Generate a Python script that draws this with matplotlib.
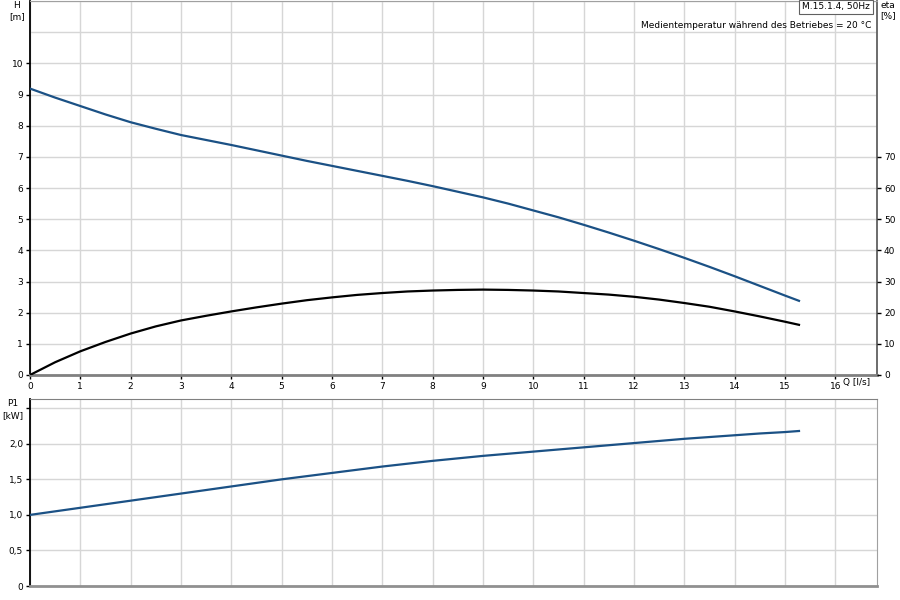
import matplotlib
matplotlib.use('Agg')
from matplotlib import pyplot as plt

# Q [l/s]
q = [0, 0.5, 1, 1.5, 2, 2.5, 3, 3.5, 4, 4.5, 5, 5.5, 6, 6.5, 7, 7.5, 8,
     8.5, 9, 9.5, 10, 10.5, 11, 11.5, 12, 12.5, 13, 13.5, 14, 14.5, 15, 15.28]
# Foerderhoehe H [m]
h = [9.19, 8.90, 8.63, 8.36, 8.11, 7.90, 7.70, 7.54, 7.38, 7.21, 7.04, 6.87, 6.71, 6.55, 6.39, 6.23, 6.06,
     5.88, 5.70, 5.50, 5.28, 5.06, 4.82, 4.57, 4.31, 4.04, 3.76, 3.47, 3.17, 2.86, 2.55, 2.38]
# Wirkungsgrad eta [%]
eta = [0, 4.1, 7.6, 10.6, 13.3, 15.6, 17.5, 19.0, 20.4, 21.7, 22.9, 24.0, 24.9, 25.7, 26.3, 26.8, 27.1,
       27.3, 27.4, 27.3, 27.1, 26.8, 26.3, 25.8, 25.1, 24.2, 23.1, 21.9, 20.4, 18.8, 17.1, 16.1]
# Leistungsaufnahme P1 [kW]
p1 = [1.00, 1.05, 1.10, 1.15, 1.20, 1.25, 1.30, 1.35, 1.40, 1.45, 1.50, 1.545, 1.59, 1.635, 1.68, 1.72, 1.76,
      1.795, 1.83, 1.86, 1.89, 1.92, 1.95, 1.98, 2.01, 2.04, 2.07, 2.095, 2.12, 2.145, 2.165, 2.18]

x_ticks = list(range(0, 17))
h_ticks = list(range(0, 11))
eta_ticks = list(range(0, 80, 10))
p_ticks = [0, 0.5, 1.0, 1.5, 2.0]
p_labels = ['0', '0,5', '1,0', '1,5', '2,0']

plt.rcParams['font.family'] = ['DejaVu Sans']
fs = 6.5

blue = '#1b5185'
grid_c = '#d6d6d6'

fig = plt.figure(figsize=(9, 6), dpi=100)

# oberes Diagramm: H und eta
ax = fig.add_axes([30/900, 225/600, 847/900, 374/600])
ax.set_xlim(0, 16.83)
ax.set_ylim(0, 12)
ax.set_xticks(x_ticks)
ax.set_yticks(h_ticks)
ax.set_yticks([11, 12], minor=True)
ax.grid(True, which='both', color=grid_c, lw=1)
ax.tick_params(which='minor', length=0)
ax.tick_params(axis='both', length=3, width=1, pad=2, labelsize=fs)
ax.plot(q, h, color=blue, lw=1.6, zorder=3)
ax.spines['left'].set_color('black')
ax.spines['left'].set_linewidth(1.3)
ax.spines['bottom'].set_color('#808080')
ax.spines['bottom'].set_linewidth(2)
ax.spines['top'].set_color('#a0a0a0')
ax.spines['right'].set_color('#606060')
ax.spines['right'].set_linewidth(1.3)
ax.set_axisbelow(True)

ax2 = ax.twinx()
ax2.set_ylim(0, 120)
ax2.set_yticks(eta_ticks)
ax2.tick_params(axis='y', length=3, width=1, pad=2, labelsize=fs)
ax2.plot(q, eta, color='black', lw=1.6, zorder=3)
for s in ax2.spines.values():
    s.set_visible(False)

fig.text(17/900, 1 - 6/600, 'H', ha='center', va='center', fontsize=fs)
fig.text(17/900, 1 - 17/600, '[m]', ha='center', va='center', fontsize=fs)
fig.text(888/900, 1 - 5/600, 'eta', ha='center', va='center', fontsize=fs)
fig.text(888/900, 1 - 16/600, '[%]', ha='center', va='center', fontsize=fs)
fig.text(857/900, 1 - 383/600, 'Q [l/s]', ha='center', va='center', fontsize=fs)
fig.text(870/900, 1 - 7/600, 'M.15.1.4, 50Hz', ha='right', va='center', fontsize=fs,
         bbox=dict(boxstyle='square,pad=0.3', fc='white', ec='#606060', lw=0.8))
fig.text(871/900, 1 - 26/600, 'Medientemperatur während des Betriebes = 20 °C',
         ha='right', va='center', fontsize=fs)

# unteres Diagramm: P1
bx = fig.add_axes([30/900, 14/600, 847/900, 187/600])
bx.set_xlim(0, 16.83)
bx.set_ylim(0, 2.63)
bx.set_xticks(x_ticks)
bx.set_xticklabels([])
bx.set_yticks(p_ticks)
bx.set_yticklabels(p_labels)
bx.set_yticks([2.5], minor=True)
bx.grid(True, which='both', color=grid_c, lw=1)
bx.tick_params(axis='x', length=0)
bx.tick_params(axis='y', which='major', length=3, width=1, pad=2, labelsize=fs)
bx.tick_params(axis='y', which='minor', length=3, width=1)
bx.plot(q, p1, color=blue, lw=1.6, zorder=3)
bx.spines['left'].set_color('black')
bx.spines['left'].set_linewidth(1.3)
bx.spines['bottom'].set_color('#909090')
bx.spines['bottom'].set_linewidth(2)
bx.spines['top'].set_color('#808080')
bx.spines['right'].set_color('#a0a0a0')
bx.set_axisbelow(True)

fig.text(13/900, 1 - 404/600, 'P1', ha='center', va='center', fontsize=fs)
fig.text(13/900, 1 - 416/600, '[kW]', ha='center', va='center', fontsize=fs)

plt.savefig('out.png', dpi=100)
